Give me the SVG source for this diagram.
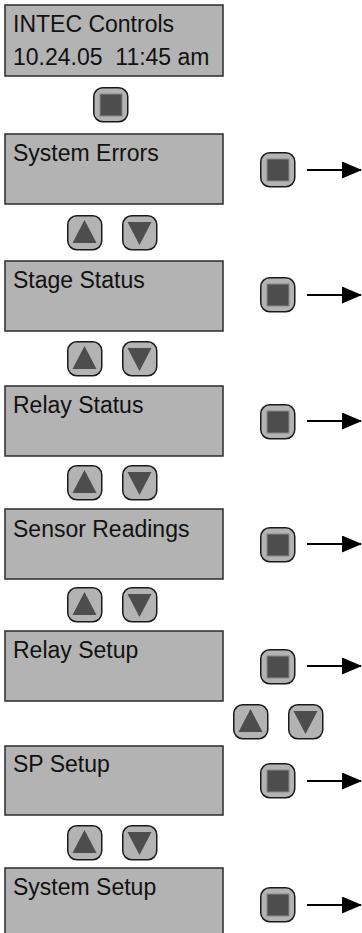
<svg xmlns="http://www.w3.org/2000/svg" xmlns:xlink="http://www.w3.org/1999/xlink" width="362" height="933" viewBox="0 0 362 933">
<style>
.box{fill:#b3b3b3;stroke:#2b2b2b;stroke-width:1.5}
.lbl{font-family:"Liberation Sans",Arial,sans-serif;font-size:23px;fill:#111}
.btn{fill:#b3b3b3;stroke:#1a1a1a;stroke-width:1.5}
.ink{fill:#4d4d4d}
.sq{fill:#4d4d4d;stroke:#8a8a8a;stroke-width:1}
.conn line{stroke:#000;stroke-width:1.8}
</style>
<defs>
<g id="enter">
<rect class="btn" x="0.75" y="0.75" width="34" height="34" rx="9"/>
<rect class="sq" x="7" y="7" width="22" height="22"/>
</g>
<g id="up">
<rect class="btn" x="0.75" y="0.75" width="34" height="34" rx="9"/>
<polygon class="ink" points="17.5,5 29.5,28 5.5,28"/>
</g>
<g id="down">
<rect class="btn" x="0.75" y="0.75" width="34" height="34" rx="9"/>
<polygon class="ink" points="5.5,7 29.5,7 17.5,30"/>
</g>
<marker id="arr" markerWidth="20" markerHeight="17" refX="19" refY="8.5" orient="auto" markerUnits="userSpaceOnUse">
<polygon points="0,0 20,8.5 0,17" fill="#000"/>
</marker>
</defs>

<g id="n-intec"><rect class="box" x="5" y="5" width="218" height="71"/><text class="lbl" x="13" y="32">INTEC Controls</text><text class="lbl" x="13" y="65" xml:space="preserve">10.24.05  11:45 am</text></g>
<g id="b-home"><use href="#enter" x="93" y="87"/></g>

<g id="n-errors"><rect class="box" x="5" y="134" width="218" height="70"/><text class="lbl" x="13" y="161">System Errors</text></g>
<g id="b-errors"><use href="#enter" x="260" y="152"/></g>
<g id="nav1"><use href="#up" x="67" y="215"/><use href="#down" x="122" y="215"/></g>

<g id="n-stage"><rect class="box" x="5" y="261" width="218" height="70"/><text class="lbl" x="13" y="288">Stage Status</text></g>
<g id="b-stage"><use href="#enter" x="260" y="277"/></g>
<g id="nav2"><use href="#up" x="67" y="341"/><use href="#down" x="122" y="341"/></g>

<g id="n-relay"><rect class="box" x="5" y="386" width="218" height="70"/><text class="lbl" x="13" y="413">Relay Status</text></g>
<g id="b-relay"><use href="#enter" x="260" y="404"/></g>
<g id="nav3"><use href="#up" x="67" y="465"/><use href="#down" x="122" y="465"/></g>

<g id="n-sensor"><rect class="box" x="5" y="509" width="218" height="70"/><text class="lbl" x="13" y="537">Sensor Readings</text></g>
<g id="b-sensor"><use href="#enter" x="260" y="527"/></g>
<g id="nav4"><use href="#up" x="67" y="587"/><use href="#down" x="122" y="587"/></g>

<g id="n-relaysetup"><rect class="box" x="5" y="631" width="218" height="70"/><text class="lbl" x="13" y="658">Relay Setup</text></g>
<g id="b-relaysetup"><use href="#enter" x="260" y="649"/></g>
<g id="nav5"><use href="#up" x="233" y="704"/><use href="#down" x="288" y="704"/></g>

<g id="n-sp"><rect class="box" x="5" y="746" width="218" height="69"/><text class="lbl" x="13" y="772">SP Setup</text></g>
<g id="b-sp"><use href="#enter" x="260" y="763"/></g>
<g id="nav6"><use href="#up" x="67" y="825"/><use href="#down" x="122" y="825"/></g>

<g id="n-system"><rect class="box" x="5" y="868" width="218" height="70"/><text class="lbl" x="13" y="895">System Setup</text></g>
<g id="b-system"><use href="#enter" x="260" y="887"/></g>

<g id="connectors" class="conn">
<line x1="307" y1="170" x2="361" y2="170" marker-end="url(#arr)"/>
<line x1="307" y1="295" x2="361" y2="295" marker-end="url(#arr)"/>
<line x1="307" y1="421" x2="361" y2="421" marker-end="url(#arr)"/>
<line x1="307" y1="544" x2="361" y2="544" marker-end="url(#arr)"/>
<line x1="307" y1="666" x2="361" y2="666" marker-end="url(#arr)"/>
<line x1="307" y1="781" x2="361" y2="781" marker-end="url(#arr)"/>
<line x1="307" y1="905" x2="361" y2="905" marker-end="url(#arr)"/>
</g>
</svg>
